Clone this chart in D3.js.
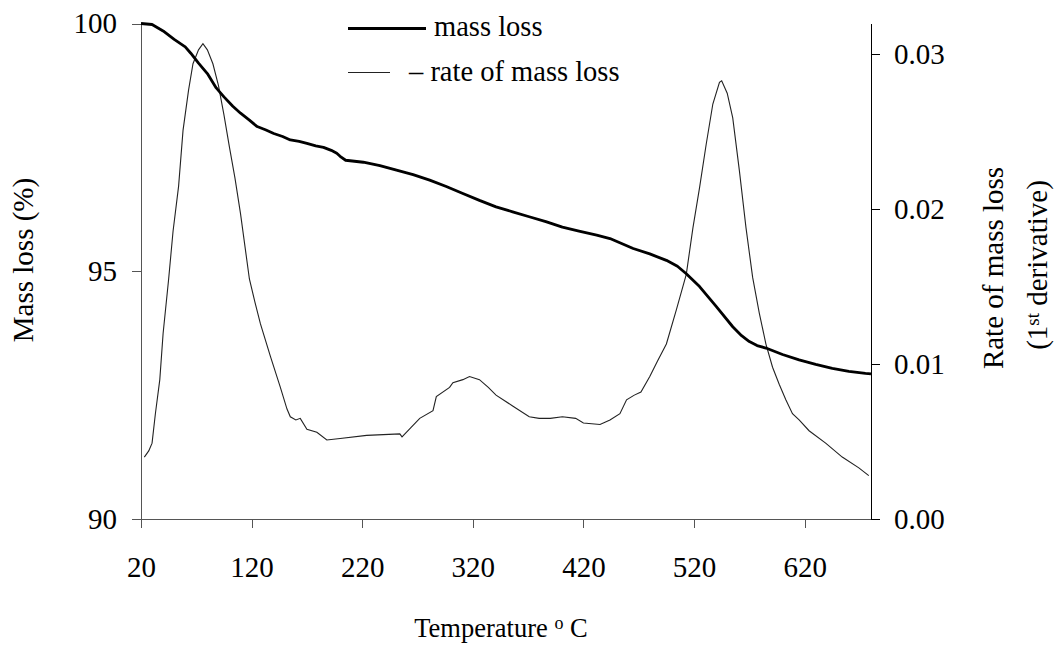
<!DOCTYPE html>
<html>
<head>
<meta charset="utf-8">
<script src="https://cdn.jsdelivr.net/npm/d3@7"></script>
<style>
    body { margin: 0; background: #fff; }
    svg text { font-family: "Liberation Serif", "DejaVu Serif", "Times New Roman", Times, serif !important; }
    .axis path, .axis line { shape-rendering: crispEdges; }
</style>
</head>
<body>
<svg id="chart" width="1055" height="645"></svg>
<script>
'use strict';

// temperature (deg C) and mass remaining (%)
var massTemp = [20, 30, 40, 50, 60, 65, 72, 80, 88, 95, 103, 110, 118, 125, 133, 140, 148, 155, 163, 170,
    178, 185, 192, 197, 200, 205, 221, 236, 251, 266, 281, 296, 311, 326, 341, 356, 371, 386, 401, 416,
    432, 444, 465, 480, 495, 505, 513, 525, 540, 555, 563, 570, 577, 585, 600, 615, 630, 645, 660, 675, 680];
var massLoss = [100.0, 99.98, 99.85, 99.68, 99.53, 99.40, 99.20, 98.99, 98.70, 98.52, 98.33, 98.19, 98.05, 97.92, 97.85, 97.78, 97.72, 97.65, 97.62, 97.58,
    97.53, 97.50, 97.44, 97.38, 97.32, 97.24, 97.20, 97.13, 97.04, 96.95, 96.84, 96.71, 96.57, 96.43, 96.30, 96.20, 96.10, 96.00, 95.89, 95.81,
    95.73, 95.66, 95.46, 95.35, 95.22, 95.10, 94.95, 94.69, 94.29, 93.88, 93.70, 93.58, 93.50, 93.45, 93.32, 93.21, 93.12, 93.04, 92.98, 92.94, 92.93];

// temperature (deg C) and rate of mass loss (1st derivative)
var rateTemp = [23, 27, 30, 33, 37, 40, 45, 49, 54, 58, 63, 67, 72, 76, 80, 85, 90, 95, 100, 105,
    110, 118, 123, 128, 137, 146, 152, 155, 160, 164, 170, 179, 188, 200, 224, 254, 256, 264, 272, 284,
    287, 299, 302, 311, 317, 326, 334, 341, 356, 371, 380, 390, 401, 413, 420, 435, 444, 453, 459, 466,
    472, 480, 487, 495, 504, 513, 519, 525, 531, 537, 543, 545, 550, 555, 561, 567, 573, 579, 585, 591,
    597, 603, 609, 615, 624, 639, 654, 669, 678];
var rateLoss = [0.0040, 0.0044, 0.0049, 0.0068, 0.0090, 0.0120, 0.0155, 0.0186, 0.0215, 0.0251, 0.0277, 0.0294, 0.0303, 0.0307, 0.0303, 0.0294, 0.0280, 0.0261, 0.0240, 0.0220,
    0.0197, 0.0155, 0.0140, 0.0126, 0.0105, 0.0085, 0.0071, 0.0066, 0.0064, 0.0065, 0.0058, 0.0056, 0.0051, 0.0052, 0.0054, 0.0055, 0.0053, 0.0059, 0.0065, 0.0070,
    0.0079, 0.0085, 0.0088, 0.0090, 0.0092, 0.0090, 0.0085, 0.0080, 0.0073, 0.0066, 0.0065, 0.0065, 0.0066, 0.0065, 0.0062, 0.0061, 0.0064, 0.0068, 0.0077, 0.0080,
    0.0082, 0.0092, 0.0102, 0.0113, 0.0135, 0.0158, 0.0188, 0.0214, 0.0242, 0.0268, 0.0282, 0.0283, 0.0275, 0.0259, 0.0225, 0.0188, 0.0156, 0.0133, 0.0113, 0.0098,
    0.0087, 0.0077, 0.0068, 0.0064, 0.0057, 0.0049, 0.0040, 0.0033, 0.0028];

var xTicks = [20, 120, 220, 320, 420, 520, 620];
var massTicks = [90, 95, 100];
var rateTicks = [0, 0.01, 0.02, 0.03];

var margin = {top: 23.5, left: 141, right: 184, bottom: 126};
var width = 1055 - margin.left - margin.right;
var height = 645 - margin.top - margin.bottom;

var svg = d3.select("#chart");
var g = svg.append("g")
    .attr("transform", "translate(" + margin.left + "," + margin.top + ")");

var x = d3.scaleLinear().domain([20, 680]).range([0, width]);
var yMass = d3.scaleLinear().domain([90, 100]).range([height, 0]);
var yRate = d3.scaleLinear().domain([0, 0.032]).range([height, 0]);

function styleAxis(sel, color) {
    sel.attr("class", "axis").attr("font-family", null);
    sel.selectAll("path").attr("stroke", color).attr("stroke-width", 1);
    sel.selectAll("line").attr("stroke", color).attr("stroke-width", 1);
    sel.selectAll("text")
        .attr("font-size", "29px")
        .attr("fill", "#000");
}

// bottom axis
g.append("g")
    .attr("transform", "translate(0," + height + ")")
    .call(d3.axisBottom(x).tickValues(xTicks).tickFormat(d3.format("d"))
        .tickSize(9).tickSizeOuter(0).tickPadding(28))
    .call(styleAxis, "#555");

// left axis
g.append("g")
    .call(d3.axisLeft(yMass).tickValues(massTicks).tickFormat(d3.format("d"))
        .tickSize(9).tickSizeOuter(0).tickPadding(15))
    .call(styleAxis, "#555");

// right axis
g.append("g")
    .attr("transform", "translate(" + width + ",0)")
    .call(d3.axisRight(yRate).tickValues(rateTicks).tickFormat(d3.format(".2f"))
        .tickSize(9).tickSizeOuter(0).tickPadding(14))
    .call(styleAxis, "#000");

// curves
var rateLine = d3.line()
    .x(function (d, i) { return x(rateTemp[i]); })
    .y(function (d) { return yRate(d); });

var massLine = d3.line()
    .x(function (d, i) { return x(massTemp[i]); })
    .y(function (d) { return yMass(d); });

g.append("path")
    .datum(rateLoss)
    .attr("fill", "none")
    .attr("stroke", "#222")
    .attr("stroke-width", 1.1)
    .attr("d", rateLine);

g.append("path")
    .datum(massLoss)
    .attr("fill", "none")
    .attr("stroke", "#000")
    .attr("stroke-width", 2.8)
    .attr("stroke-linejoin", "round")
    .attr("d", massLine);

// legend
var legend = svg.append("g").attr("class", "legend")
    .attr("font-size", "28.5px");

legend.append("line")
    .attr("x1", 348).attr("x2", 426).attr("y1", 28.5).attr("y2", 28.5)
    .attr("stroke", "#000").attr("stroke-width", 2.8);
legend.append("text")
    .attr("x", 434).attr("y", 36)
    .text("mass loss");

legend.append("line")
    .attr("x1", 348).attr("x2", 390).attr("y1", 72.5).attr("y2", 72.5)
    .attr("stroke", "#222").attr("stroke-width", 1.1);
legend.append("text")
    .attr("x", 409).attr("y", 81)
    .text("\u2013 rate of mass loss");

// axis titles
svg.append("text")
    .attr("transform", "translate(33,260) rotate(-90)")
    .attr("text-anchor", "middle")
    .attr("font-size", "29px")
    .text("Mass loss (%)");

var xTitle = svg.append("text")
    .attr("x", 501).attr("y", 637)
    .attr("text-anchor", "middle")
    .attr("font-size", "26.5px");
xTitle.append("tspan").text("Temperature ");
xTitle.append("tspan").attr("font-size", "18px").attr("dy", -8).text("o");
xTitle.append("tspan").attr("dy", 8).text(" C");

svg.append("text")
    .attr("transform", "translate(1003,268) rotate(-90)")
    .attr("text-anchor", "middle")
    .attr("font-size", "29px")
    .text("Rate of mass loss");

var rTitle = svg.append("text")
    .attr("transform", "translate(1047,265) rotate(-90)")
    .attr("text-anchor", "middle")
    .attr("font-size", "29px");
rTitle.append("tspan").text("(1");
rTitle.append("tspan").attr("font-size", "19px").attr("dy", -8).text("st");
rTitle.append("tspan").attr("dy", 8).text(" derivative)");
</script>
</body>
</html>
